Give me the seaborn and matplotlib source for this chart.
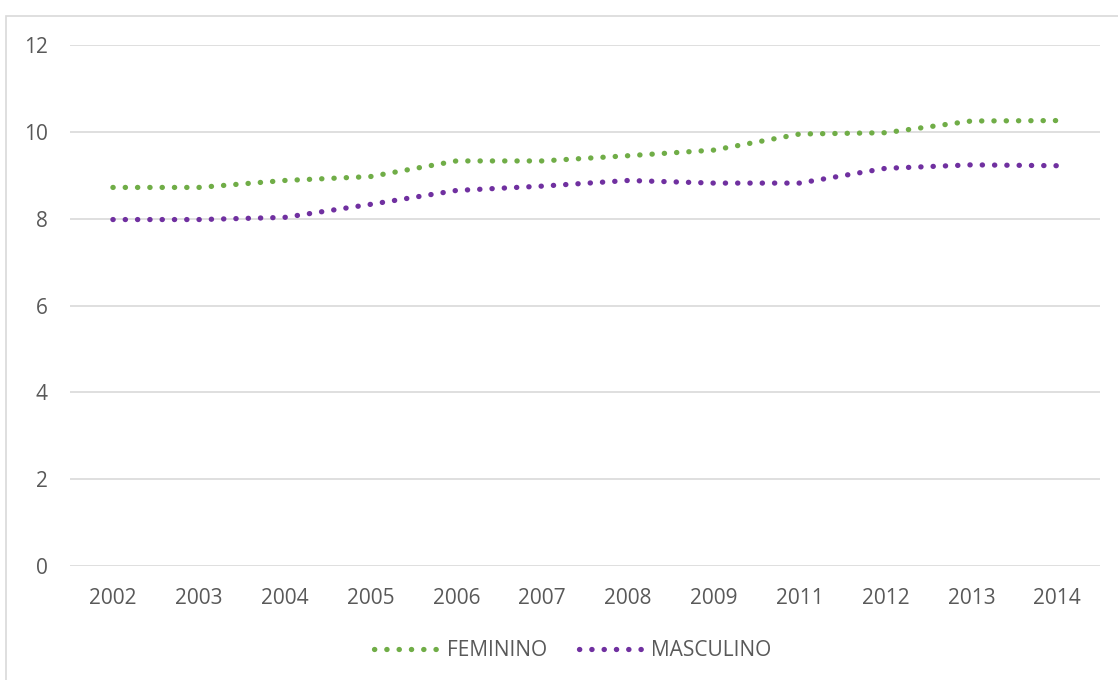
import matplotlib
matplotlib.use("Agg")
import matplotlib.pyplot as plt
from matplotlib.patches import Rectangle
from matplotlib.lines import Line2D
import numpy as np
import pandas as pd
import seaborn as sns

# Categories and series values
years = ["2002", "2003", "2004", "2005", "2006", "2007", "2008", "2009",
         "2011", "2012", "2013", "2014"]
feminino = [8.72, 8.72, 8.88, 8.97, 9.33, 9.33, 9.45, 9.58, 9.95, 9.98, 10.25, 10.26]
masculino = [7.98, 7.98, 8.03, 8.33, 8.65, 8.75, 8.88, 8.82, 8.82, 9.16, 9.24, 9.22]
series_names = ["FEMININO", "MASCULINO"]
colors = ["#70AD47", "#7030A0"]

df = pd.DataFrame({
    "pos": list(range(len(years))) * 2,
    "valor": feminino + masculino,
    "serie": [series_names[0]] * len(years) + [series_names[1]] * len(years),
})

sns.set_theme(style="white")
plt.rcParams["font.family"] = ["Open Sans", "DejaVu Sans"]

fig = plt.figure(figsize=(11.18, 6.80), dpi=100)
ax = fig.add_axes([0.0626, 0.1676, 0.9214, 0.7662])

lw = 3.8
dot_style = (0, (0.05, 2.28))
sns.lineplot(data=df, x="pos", y="valor", hue="serie", hue_order=series_names,
             palette=colors, ax=ax, linewidth=lw, legend=False, sort=False)
for line in ax.get_lines():
    line.set_linestyle(dot_style)
    line.set_dash_capstyle("round")

ax.set_xlim(-0.5, len(years) - 0.5)
ax.set_ylim(0, 12)
ax.set_yticks(np.arange(0, 13, 2))
ax.set_xticks(range(len(years)))
ax.set_xticklabels(years)
ax.set_xlabel("")
ax.set_ylabel("")
ax.grid(axis="y", color="#D9D9D9", linewidth=1.2)
ax.grid(axis="x", visible=False)
ax.set_axisbelow(True)
for s in ax.spines.values():
    s.set_visible(False)
ax.tick_params(axis="both", length=0, labelsize=15, labelcolor="#595959")
ax.tick_params(axis="x", pad=16)
ax.tick_params(axis="y", pad=16)

# Legend below the plot
handles = [Line2D([0], [0], color=c, linewidth=lw, linestyle=dot_style,
                  dash_capstyle="round") for c in colors]
fig.legend(handles, series_names, loc="center", bbox_to_anchor=(0.5125, 0.043),
           ncol=2, frameon=False, fontsize=15, labelcolor="#595959",
           handlelength=3.0, columnspacing=1.5, handletextpad=0.5)

# Chart area border
fig.add_artist(Rectangle((0.0055, -0.01), 1.1, 0.987, transform=fig.transFigure,
                         fill=False, edgecolor="#D9D9D9", linewidth=1.2))

fig.savefig("out.png", dpi=100)
